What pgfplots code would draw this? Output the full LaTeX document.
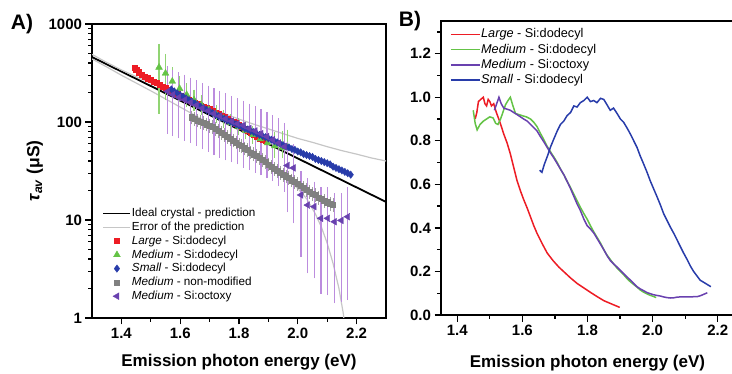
\documentclass[border=0pt]{standalone}
\usepackage{pgfplots}
\pgfplotsset{compat=1.18}
\usepackage{fontspec}
\setmainfont{Liberation Sans}
\definecolor{cred}{RGB}{237,28,36}
\definecolor{cgreen}{RGB}{100,195,70}
\definecolor{cgreenl}{RGB}{145,212,115}
\definecolor{cblue}{RGB}{40,60,170}
\definecolor{cgray}{RGB}{128,128,128}
\definecolor{cgrayl}{RGB}{160,160,160}
\definecolor{cpur}{RGB}{105,65,175}
\definecolor{cpurl}{RGB}{188,140,222}
\definecolor{cerr}{RGB}{198,198,198}
\begin{document}
\begin{tikzpicture}
\useasboundingbox (0,0) rectangle (732pt,-374pt);
% ---------------- Panel A ----------------
\begin{axis}[
  scale only axis,
  at={(92pt,-318pt)}, anchor=south west,
  width=294pt, height=294pt,
  axis line style={line width=1.8pt, black},
  tick style={line width=1.3pt, black},
  tick align=outside, tick pos=left,
  major tick length=6.5pt, minor tick length=3.8pt,
  xticklabel style={font=\bfseries\fontsize{15}{15}\selectfont},
  yticklabel style={font=\bfseries\fontsize{15}{15}\selectfont},
  xmin=1.3, xmax=2.3, ymode=log, ymin=1, ymax=1000,
  xtick={1.4,1.6,1.8,2.0,2.2}, xticklabels={1.4,1.6,1.8,2.0,2.2},
  minor xtick={1.5,1.7,1.9,2.1},
  ytick={1,10,100,1000}, yticklabels={1,10,100,1000},
  minor ytick={2,3,4,5,6,7,8,9,20,30,40,50,60,70,80,90,200,300,400,500,600,700,800,900},
  xlabel={Emission photon energy (eV)},
  xlabel style={at={(axis description cs:0.5,-0.15)}, anchor=center, font=\bfseries\fontsize{17}{17}\selectfont},
  ylabel={\textit{τ}\textsubscript{\textit{av}} (μS)},
  ylabel style={at={(axis description cs:-0.194,0.5)}, anchor=center, font=\bfseries\fontsize{17.5}{17.5}\selectfont},
  legend style={at={(0.025,0.385)}, anchor=north west, draw=none, fill=none,
    font=\fontsize{11.7}{12}\selectfont, row sep=1pt,
    nodes={inner sep=0.6pt, text height=9pt, text depth=2.6pt}},
  legend cell align=left,
  legend image code/.code={\draw[mark repeat=2,mark phase=2,#1] plot coordinates {(0pt,0pt) (13.5pt,0pt) (27pt,0pt)};},
]
\addplot[black, line width=1.8pt] coordinates {(1.3,460) (2.3,15.3)};
\addlegendentry{Ideal crystal - prediction}
\addplot[cerr, line width=1.2pt] coordinates {
(1.30,490) (1.35,405) (1.40,340) (1.45,290) (1.50,250) (1.55,215) (1.60,185) (1.65,160) (1.70,140) (1.75,122) (1.80,107) (1.85,95) (1.90,85) (1.95,76) (2.00,68) (2.05,62) (2.10,56) (2.15,51) (2.20,47) (2.25,43) (2.30,40)};
\addlegendentry{Error of the prediction}
\addplot[cerr, line width=1.2pt, forget plot] coordinates {
(1.30,440) (1.35,365) (1.40,300) (1.45,250) (1.50,208) (1.55,172) (1.60,142) (1.65,117) (1.70,96) (1.75,78) (1.80,63) (1.85,50) (1.90,39) (1.95,29) (2.00,21) (2.03,16.5) (2.06,11.5) (2.08,8.5) (2.10,5.8) (2.12,3.6) (2.14,2.0) (2.155,1.1) (2.165,0.6)};
% Large - red squares
\addplot[only marks, mark=square*, mark size=2.6pt, color=cred, mark options={fill=cred}] coordinates {
(1.445,358)(1.45,340)(1.46,322)(1.47,305)(1.48,292)(1.49,280)(1.50,269)(1.51,258)(1.52,250)(1.53,240)(1.54,231)(1.55,224)(1.56,214)(1.57,207)(1.58,199)(1.59,192)(1.60,186)(1.61,180)(1.62,173)(1.63,168)(1.64,162)(1.65,158)(1.66,153)(1.67,148)(1.68,144)(1.69,139)(1.70,135)(1.71,130)(1.72,125)(1.73,121)(1.74,117)(1.75,113)(1.76,108)(1.77,104)(1.78,100)(1.79,97)(1.80,94)(1.81,90)(1.82,86)(1.83,82)(1.84,78)(1.85,74)(1.86,71)(1.87,68)(1.88,66)(1.89,64)};
\addlegendentry{\textit{Large} - Si:dodecyl}
% Medium dodecyl - green triangles
\addplot[only marks, mark=triangle*, mark size=3.9pt, color=cgreen, mark options={fill=cgreen},
  error bars/.cd, y dir=both, y explicit,
  error bar style={cgreenl, line width=1.1pt},
  error mark options={cgreenl, mark size=3.4pt, line width=1.1pt}]
  table[x=x, y=y, y error plus=ep, y error minus=em] {
x y ep em
1.528 361 217 229
1.550 314 143 133
1.573 260 74 65
1.598 219 51 44
1.622 190 40 35
1.647 168 30 28
1.672 150 24 22
1.697 134 20 18
1.722 120 17 15
1.747 108 15 13
1.772 98 13 12
1.797 90 12 11
1.822 82 11 10
1.847 74 10 9
1.872 67 10 9
1.897 61 12 10
1.922 57 16 10
1.947 55 20 9
1.966 55 22 6
};
\addlegendentry{\textit{Medium} - Si:dodecyl}
% Small - blue diamonds
\addplot[only marks, mark=diamond*, mark size=3.7pt, color=cblue, mark options={fill=cblue}] coordinates {
(1.57,215)(1.58,205)(1.59,196)(1.60,188)(1.61,181)(1.62,174)(1.63,167)(1.64,161)(1.65,155)(1.66,149)(1.67,143)(1.68,138)(1.69,133)(1.70,128)(1.71,124)(1.72,119)(1.73,115)(1.74,111)(1.75,108)(1.76,104)(1.77,101)(1.78,98)(1.79,95)(1.80,92)(1.81,89)(1.82,86)(1.83,84)(1.84,81)(1.85,79)(1.86,76)(1.87,74)(1.88,72)(1.89,70)(1.90,68)(1.91,66)(1.92,64)(1.93,62)(1.94,60)(1.95,58)(1.96,56)(1.97,55)(1.98,53)(1.99,52)(2.00,50)(2.01,49)(2.02,47)(2.03,46)(2.04,45)(2.05,44)(2.06,42)(2.07,41)(2.08,40)(2.09,39)(2.10,38)(2.11,37)(2.12,35)(2.13,34)(2.14,33)(2.15,32)(2.16,31)(2.17,30)(2.18,29)};
\addlegendentry{\textit{Small} - Si:dodecyl}
% Medium non-modified - gray squares
\addplot[only marks, mark=square*, mark size=2.6pt, color=cgray, mark options={fill=cgray},
  error bars/.cd, y dir=both, y fixed relative=0.1,
  error bar style={cgrayl, line width=1pt},
  error mark options={cgrayl, mark size=2.6pt, line width=1pt}] coordinates {
(1.64,112)(1.65,108)(1.66,104)(1.67,101)(1.68,98)(1.69,95)(1.70,92)(1.71,89)(1.72,85)(1.73,81)(1.74,78)(1.75,74)(1.76,71)(1.77,68)(1.78,65)(1.79,62)(1.80,59)(1.81,57)(1.82,54)(1.83,52)(1.84,49)(1.85,47)(1.86,45)(1.87,43)(1.88,41)(1.89,39)(1.90,37)(1.91,35)(1.92,33.5)(1.93,32)(1.94,30.5)(1.95,29)(1.96,28)(1.97,27)(1.98,25.5)(1.99,24.5)(2.00,23.5)(2.01,22.5)(2.02,21.5)(2.03,20.5)(2.04,19.5)(2.05,18.5)(2.06,18)(2.07,17)(2.08,16.5)(2.09,15.8)(2.10,15.2)(2.11,14.6)(2.12,14.2)};
\addlegendentry{\textit{Medium} - non-modified}
% Medium octoxy - purple left triangles
\addplot[only marks, mark=triangle*, mark size=3.9pt, color=cpur, mark options={fill=cpur, rotate=90},
  error bars/.cd, y dir=both, y explicit,
  error bar style={cpurl, line width=1.2pt},
  error mark options={cpurl, mark size=3.5pt, line width=1.2pt, rotate=0}]
  table[x=x, y=y, y error plus=ep, y error minus=em] {
x y ep em
1.557 205 135 123
1.575 190 125 112
1.595 178 117 104
1.615 168 112 98
1.635 158 104 92
1.655 148 97 86
1.675 138 92 81
1.695 130 86 76
1.715 122 81 72
1.735 115 77 68
1.755 108 72 64
1.775 102 68 60
1.795 96 64 56
1.815 92 60 55
1.835 86 56 51
1.855 81 53 48
1.875 76 49 45
1.895 71 46 42
1.915 66 42 39
1.935 61 39 37
1.955 56 34 35
1.965 36 22 23
1.985 34 21 24
2.011 18 11 13.4
2.034 14.2 10.3 11.1
2.056 13.7 9.0 10.95
2.079 10.4 9.6 8.47
2.102 10.4 9.6 8.54
2.125 9.6 7.7 8.07
2.148 9.9 7.4 8.31
2.170 10.8 9.2 9.15
};
\addlegendentry{\textit{Medium} - Si:octoxy}
\end{axis}
% ---------------- Panel B ----------------
\begin{axis}[
  scale only axis,
  at={(441pt,-315pt)}, anchor=south west,
  width=293pt, height=294pt,
  axis line style={line width=1.8pt, black},
  tick style={line width=1.3pt, black},
  tick align=outside, tick pos=left,
  major tick length=6.5pt, minor tick length=3.8pt,
  xticklabel style={font=\bfseries\fontsize{15}{15}\selectfont},
  yticklabel style={font=\bfseries\fontsize{15}{15}\selectfont},
  xmin=1.35, xmax=2.25, ymin=0, ymax=1.35,
  xtick={1.4,1.6,1.8,2.0,2.2}, xticklabels={1.4,1.6,1.8,2.0,2.2},
  minor xtick={1.5,1.7,1.9,2.1},
  ytick={0,0.2,0.4,0.6,0.8,1.0,1.2}, yticklabels={0.0,0.2,0.4,0.6,0.8,1.0,1.2},
  minor ytick={0.1,0.3,0.5,0.7,0.9,1.1,1.3},
  xlabel={Emission photon energy (eV)},
  xlabel style={at={(axis description cs:0.5,-0.163)}, anchor=center, font=\bfseries\fontsize{17}{17}\selectfont},
  legend style={at={(0.02,0.985)}, anchor=north west, draw=none, fill=none,
    font=\fontsize{12.7}{13}\selectfont, row sep=1.6pt,
    nodes={inner sep=0.6pt, text height=9.6pt, text depth=2.8pt}},
  legend cell align=left,
  legend image code/.code={\draw[#1] (0pt,0pt) -- (29pt,0pt);},
]
\addplot[cred, line width=1.5pt] coordinates {
(1.455,0.90)(1.460,0.93)(1.465,0.98)(1.472,0.99)(1.480,1.00)(1.485,0.97)(1.490,0.96)(1.495,0.99)(1.500,0.98)(1.505,0.96)(1.512,0.97)(1.520,0.93)(1.530,0.89)(1.543,0.83)(1.553,0.79)(1.563,0.74)(1.573,0.68)(1.583,0.62)(1.594,0.57)(1.604,0.53)(1.615,0.49)(1.625,0.45)(1.635,0.41)(1.645,0.375)(1.660,0.33)(1.676,0.285)(1.694,0.25)(1.712,0.22)(1.730,0.195)(1.748,0.17)(1.768,0.145)(1.788,0.125)(1.808,0.105)(1.829,0.085)(1.850,0.066)(1.875,0.05)(1.899,0.035)};
\addlegendentry{\textit{Large} - Si:dodecyl}
\addplot[cgreen, line width=1.5pt] coordinates {
(1.449,0.94)(1.455,0.88)(1.461,0.85)(1.470,0.875)(1.480,0.89)(1.490,0.90)(1.500,0.91)(1.510,0.905)(1.518,0.88)(1.525,0.875)(1.533,0.90)(1.540,0.93)(1.548,0.965)(1.556,0.985)(1.563,1.0)(1.571,0.96)(1.579,0.925)(1.590,0.92)(1.600,0.915)(1.612,0.91)(1.625,0.90)(1.635,0.885)(1.645,0.865)(1.655,0.835)(1.666,0.805)(1.676,0.775)(1.686,0.75)(1.697,0.725)(1.707,0.70)(1.717,0.67)(1.727,0.645)(1.737,0.615)(1.748,0.585)(1.758,0.555)(1.768,0.525)(1.778,0.495)(1.789,0.465)(1.799,0.44)(1.809,0.41)(1.820,0.38)(1.830,0.355)(1.840,0.33)(1.850,0.30)(1.860,0.275)(1.870,0.255)(1.880,0.235)(1.891,0.215)(1.901,0.20)(1.911,0.185)(1.921,0.168)(1.932,0.152)(1.942,0.14)(1.952,0.128)(1.962,0.115)(1.972,0.105)(1.983,0.097)(1.993,0.09)(2.003,0.085)(2.011,0.08)};
\addlegendentry{\textit{Medium} - Si:dodecyl}
\addplot[cpur, line width=1.5pt] coordinates {
(1.514,0.94)(1.521,0.97)(1.528,1.0)(1.535,0.97)(1.543,0.95)(1.553,0.945)(1.563,0.94)(1.573,0.93)(1.584,0.92)(1.594,0.91)(1.604,0.90)(1.615,0.89)(1.625,0.875)(1.635,0.86)(1.645,0.845)(1.655,0.82)(1.666,0.795)(1.676,0.77)(1.686,0.745)(1.697,0.72)(1.707,0.695)(1.717,0.67)(1.727,0.645)(1.737,0.615)(1.748,0.58)(1.758,0.545)(1.768,0.51)(1.778,0.48)(1.789,0.44)(1.799,0.41)(1.809,0.395)(1.820,0.375)(1.830,0.35)(1.840,0.325)(1.850,0.30)(1.861,0.27)(1.870,0.25)(1.880,0.235)(1.891,0.22)(1.901,0.205)(1.911,0.19)(1.921,0.175)(1.932,0.16)(1.942,0.145)(1.952,0.13)(1.962,0.12)(1.972,0.112)(1.983,0.103)(1.993,0.098)(2.003,0.093)(2.013,0.09)(2.024,0.087)(2.034,0.083)(2.044,0.08)(2.054,0.078)(2.065,0.079)(2.075,0.082)(2.085,0.083)(2.095,0.083)(2.106,0.083)(2.116,0.083)(2.126,0.084)(2.136,0.084)(2.146,0.088)(2.157,0.095)(2.168,0.102)};
\addlegendentry{\textit{Medium} - Si:octoxy}
\addplot[cblue, line width=1.5pt] coordinates {
(1.653,0.665)(1.660,0.655)(1.667,0.69)(1.677,0.73)(1.686,0.77)(1.697,0.81)(1.707,0.845)(1.717,0.875)(1.727,0.89)(1.737,0.915)(1.748,0.93)(1.758,0.96)(1.768,0.955)(1.778,0.975)(1.789,0.985)(1.799,1.0)(1.809,0.98)(1.819,0.985)(1.829,0.975)(1.840,0.995)(1.850,0.99)(1.860,0.965)(1.870,0.94)(1.880,0.95)(1.891,0.925)(1.901,0.90)(1.911,0.885)(1.921,0.86)(1.932,0.83)(1.942,0.80)(1.952,0.77)(1.962,0.73)(1.972,0.695)(1.983,0.655)(1.993,0.615)(2.003,0.58)(2.013,0.545)(2.024,0.505)(2.034,0.465)(2.044,0.435)(2.054,0.405)(2.065,0.375)(2.075,0.345)(2.085,0.315)(2.095,0.285)(2.106,0.255)(2.116,0.225)(2.126,0.20)(2.136,0.18)(2.146,0.16)(2.157,0.15)(2.168,0.14)(2.179,0.13)};
\addlegendentry{\textit{Small} - Si:dodecyl}
\end{axis}
\node[font=\bfseries\fontsize{21}{21}\selectfont] at (22pt,-24pt) {A)};
\node[font=\bfseries\fontsize{21}{21}\selectfont] at (410pt,-21pt) {B)};
\end{tikzpicture}
\end{document}
